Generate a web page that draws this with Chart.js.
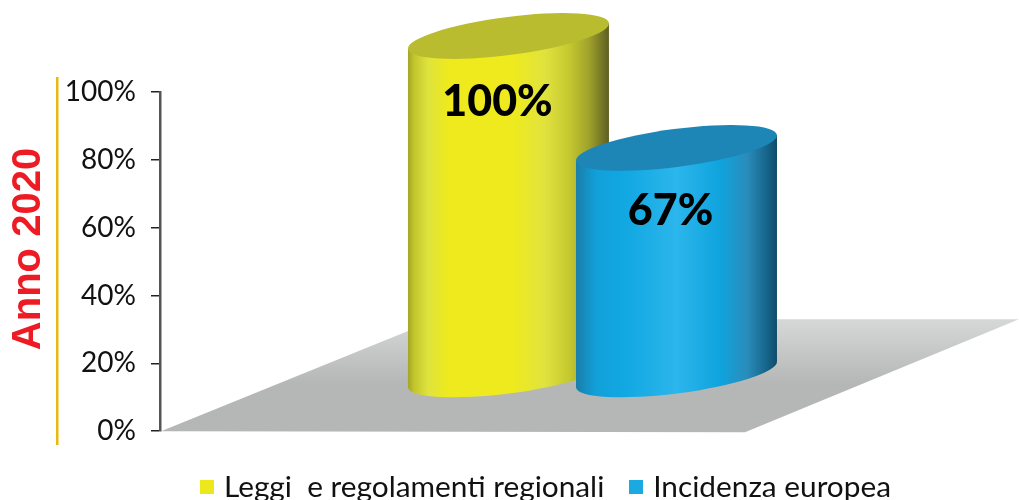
<!DOCTYPE html>
<html><head><meta charset="utf-8">
<style>html,body{margin:0;padding:0;background:#fff}#w{width:1019px;height:500px}</style>
<script src="https://cdn.jsdelivr.net/npm/chart.js@4"></script>
</head><body><div id="w"><canvas id="c" width="1019" height="500"></canvas></div>
<script>
const categories = ['Leggi  e regolamenti regionali', 'Incidenza europea'];
const slots = [1, 2];
const values = [100, 67];
const tickValues = [0, 20, 40, 60, 80, 100];
const sideTitle = 'Anno 2020';
const swatch = ['#ece81c', '#1aa9e1'];
const caps = ['#b9bc2f', '#1d86b6'];
const shades = [
  [[0,'#a3a529'],[.03,'#c2c52c'],[.1,'#dfe33e'],[.2,'#eeea1d'],[.52,'#eeea1d'],[.68,'#e0e33e'],[.8,'#c6c92f'],[.9,'#a0a22b'],[1,'#5e5f22']],
  [[0,'#1a7ea9'],[.1,'#11a0da'],[.25,'#12a8e2'],[.5,'#2bb6ec'],[.72,'#0fa3dd'],[.85,'#2a8dbb'],[.95,'#15648a'],[1,'#104c68']]
];
const depth = 56, tilt = -7.4 * Math.PI / 180;

function ell(ctx, cx, cy, rx, ry) { ctx.beginPath(); ctx.ellipse(cx, cy, rx, ry, tilt, 0, Math.PI * 2); }
function swatchImage(color) {
  const c = document.createElement('canvas'); c.width = 14; c.height = 14;
  const x = c.getContext('2d'); x.fillStyle = color; x.fillRect(0, 0, 14, 14);
  return c;
}

const cylinders = {
  id: 'cylinders',
  beforeDatasetsDraw(chart) {
    const ctx = chart.ctx, ya = chart.scales.y, y0 = ya.getPixelForValue(0);
    const backY = ya.getPixelForValue(33);
    ctx.save();
    const g = ctx.createLinearGradient(0, backY, 0, backY + 65);
    g.addColorStop(0, '#d6d8d7'); g.addColorStop(1, '#b5b7b6');
    ctx.fillStyle = g;
    ctx.beginPath();
    ctx.moveTo(chart.chartArea.left + 1, y0);
    ctx.lineTo(745, y0 + 1);
    ctx.lineTo(1019, backY);
    ctx.lineTo(437, backY);
    ctx.closePath(); ctx.fill();
    chart.data.datasets.forEach((ds, i) => {
      const el = chart.getDatasetMeta(i).data[0];
      const w = el.width, left = el.x - w / 2, right = el.x + w / 2;
      const rx = w / 2 * 1.008, ry = 19;
      const top = el.y - depth, bot = el.base - depth;
      const tan = 13;
      const bg = ctx.createLinearGradient(left, 0, right, 0);
      shades[i].forEach(s => bg.addColorStop(s[0], s[1]));
      ctx.fillStyle = bg;
      ell(ctx, el.x, bot, rx, ry); ctx.fill();
      ctx.beginPath();
      ctx.moveTo(left, top + tan); ctx.lineTo(right, top - tan);
      ctx.lineTo(right, bot - tan); ctx.lineTo(left, bot + tan);
      ctx.closePath(); ctx.fill();
      ctx.fillStyle = caps[i];
      ell(ctx, el.x, top, rx, ry); ctx.fill();
    });
    ctx.fillStyle = '#000';
    ctx.font = '900 43px Lato';
    ctx.textAlign = 'center'; ctx.textBaseline = 'middle';
    chart.data.datasets.forEach((ds, i) => {
      const el = chart.getDatasetMeta(i).data[0];
      ctx.fillText(values[i] + '%', el.x + (i ? -6 : -11), el.y + (i ? 7 : 10));
    });
    ctx.fillStyle = '#e8b90f';
    ctx.fillRect(56, 77, 2.5, 368);
    ctx.translate(29, 249);
    ctx.rotate(-Math.PI / 2);
    ctx.fillStyle = '#ed1c24';
    ctx.font = 'bold 40px "Liberation Sans"';
    ctx.fillText(sideTitle, 0, 0);
    ctx.restore();
    return false;
  }
};

new Chart(document.getElementById('c'), {
  type: 'bar',
  data: {
    datasets: categories.map((name, i) => ({
      label: name,
      data: [{ x: slots[i], y: values[i] }],
      backgroundColor: swatch[i],
      barThickness: 201,
      grouped: false
    }))
  },
  plugins: [cylinders],
  options: {
    responsive: false, animation: false,
    layout: { padding: { top: 92, left: 60, right: 99, bottom: -12 } },
    scales: {
      x: {
        type: 'linear', offset: false, min: -1.074, max: 1 + (920 - 508.5) / 168,
        grid: { display: false }, border: { display: false }, ticks: { display: false },
        afterFit(s) { s.height = 12; }
      },
      y: {
        min: 0, max: 100,
        afterBuildTicks(s) { s.ticks = tickValues.map(v => ({ value: v })); },
        afterFit(s) { s.width = 100; },
        grid: { drawOnChartArea: false, tickLength: 9, tickColor: '#222', lineWidth: 1.5 },
        border: { color: '#555', width: 2.5 },
        ticks: { callback: v => v + '%', color: '#111', font: { family: 'Lato', size: 28 }, padding: 15 }
      }
    },
    plugins: {
      tooltip: { enabled: false },
      legend: {
        position: 'bottom', align: 'end',
        labels: {
          color: '#111', usePointStyle: true, boxWidth: 5, padding: 29,
          font: { family: 'Lato', size: 29.8 },
          generateLabels(chart) {
            const items = Chart.defaults.plugins.legend.labels.generateLabels(chart);
            items.forEach((it, i) => { it.pointStyle = swatchImage(swatch[i]); });
            return items;
          }
        }
      }
    }
  }
});
</script></body></html>
